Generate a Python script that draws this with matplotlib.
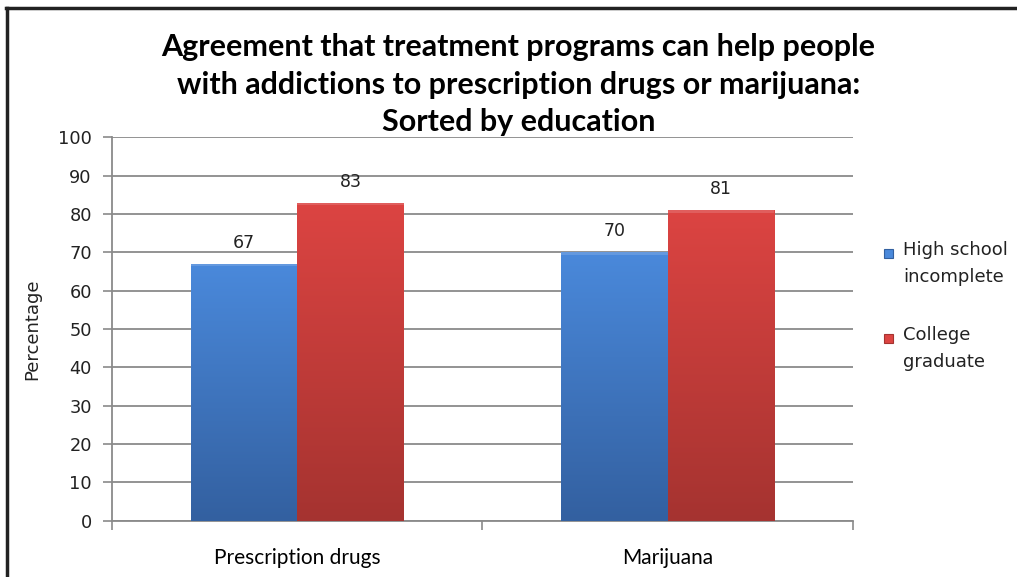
import numpy as np
import matplotlib.pyplot as plt
from matplotlib.colors import LinearSegmentedColormap
from matplotlib.lines import Line2D
from matplotlib.patches import Rectangle

# ---- data ----
categories = ["Prescription drugs", "Marijuana"]
series_names = ["High school\nincomplete", "College\ngraduate"]
high_school = [67, 70]
college = [83, 81]

title = ("Agreement that treatment programs can help people\n"
         "with addictions to prescription drugs or marijuana:\n"
         "Sorted by education")

colors = {
    "blue": ("#4a89db", "#3360a0"),
    "red": ("#dc4442", "#a53330"),
}

fig = plt.figure(figsize=(10.17, 5.77), dpi=100)
ax = fig.add_axes([0.1101, 0.0976, 0.7286, 0.6641])

x = np.arange(len(categories))
width = 0.2875

bars_hs = ax.bar(x - width / 2, high_school, width, color=colors["blue"][0],
                 zorder=3, linewidth=0)
bars_cg = ax.bar(x + width / 2, college, width, color=colors["red"][0],
                 zorder=3, linewidth=0)


def shade(bars, top, bottom):
    # vertical gradient, lighter at the top
    cmap = LinearSegmentedColormap.from_list("g", [bottom, top])
    grad = np.linspace(0, 1, 256).reshape(-1, 1)
    for b in bars:
        x0, y0 = b.get_x(), b.get_y()
        w, h = b.get_width(), b.get_height()
        im = ax.imshow(grad, extent=[x0, x0 + w, y0, y0 + h], origin="lower",
                       cmap=cmap, aspect="auto", zorder=3.5,
                       interpolation="bicubic")
        im.set_clip_path(b)
        # thin bevel at the top edge
        ax.fill_between([x0, x0 + w], y0 + h - 0.6, y0 + h, color="white",
                        alpha=0.15, linewidth=0, zorder=4)


shade(bars_hs, *colors["blue"])
shade(bars_cg, *colors["red"])

for bars, vals in ((bars_hs, high_school), (bars_cg, college)):
    for b, v in zip(bars, vals):
        ax.text(b.get_x() + b.get_width() / 2, v + 5.5, str(v),
                ha="center", va="center", fontsize=12.5,
                family="DejaVu Sans", color="#222222")

ax.set_xlim(-0.5, 1.5)
ax.set_ylim(0, 100)
ax.set_yticks(range(0, 101, 10))
ax.yaxis.grid(True, color="#8a8a8a", linewidth=1.3, zorder=0)
ax.set_axisbelow(True)

ax.set_xticks([-0.5, 0.5, 1.5])
ax.set_xticklabels([])
ax.set_xticks(x, minor=True)
ax.set_xticklabels(categories, minor=True, fontsize=15, family="Lato")
ax.tick_params(axis="x", which="minor", length=0, pad=20)
ax.tick_params(axis="x", which="major", length=6.5, width=1.2,
               color="#8a8a8a")
ax.tick_params(axis="y", length=6.5, width=1.2, color="#8a8a8a",
               labelsize=12.8, pad=8)
for lab in ax.get_yticklabels():
    lab.set_family("DejaVu Sans")
    lab.set_color("#222222")

for side in ("top", "right"):
    ax.spines[side].set_visible(False)
for side in ("left", "bottom"):
    ax.spines[side].set_color("#8a8a8a")
    ax.spines[side].set_linewidth(1.3)

ax.set_ylabel("Percentage", fontsize=13, family="DejaVu Sans",
              labelpad=12, color="#222222")

fig.text(0.510, 0.853, title, ha="center", va="center", fontsize=22,
         fontweight="bold", family="Lato", linespacing=1.42)

# legend, square beside the first line of each label
W, H = 1017.0, 577.0
legend_rows = [(series_names[0], colors["blue"], 253),
               (series_names[1], colors["red"], 338)]
for name, (face, edge), ypix in legend_rows:
    fig.add_artist(Rectangle((884 / W, 1 - (ypix + 4.5) / H), 9 / W, 9 / H,
                             facecolor=face, edgecolor=edge, linewidth=0.8,
                             transform=fig.transFigure))
    fig.text(903 / W, 1 - (ypix - 12) / H, name, ha="left", va="top",
             fontsize=13, family="DejaVu Sans", color="#222222",
             linespacing=1.65)

# frame on left and top of the picture
fig.add_artist(Line2D([0.0069, 0.0069], [0.0, 0.9853], color="#222222",
                      linewidth=2.5, transform=fig.transFigure))
fig.add_artist(Line2D([0.0059, 1.0], [0.9853, 0.9853], color="#222222",
                      linewidth=2.5, transform=fig.transFigure))

fig.savefig("out.png", dpi=100)
